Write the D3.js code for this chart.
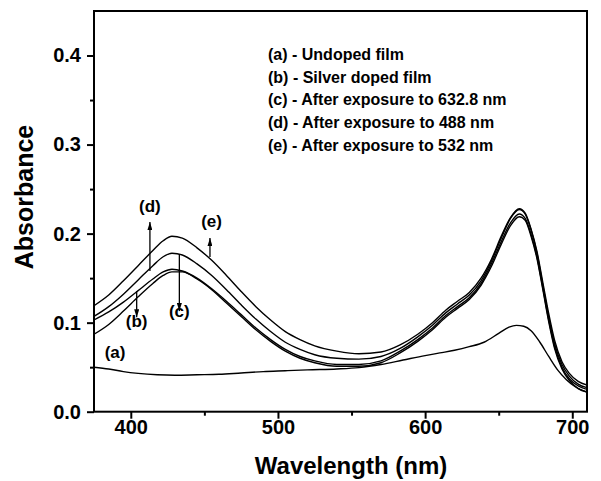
<!DOCTYPE html>
<html>
<head>
<meta charset="utf-8">
<script src="https://cdn.jsdelivr.net/npm/d3@7"></script>
<style>
  body { margin: 0; background: #fff; }
  svg { display: block; }
  text { font-family: 'Liberation Sans', Arial, sans-serif; font-weight: bold; fill: #000; }
</style>
</head>
<body>
<script>
// absorbance spectra
var wl = [375, 385, 395, 405, 415, 422, 428, 435, 445, 455, 465, 475, 485, 495, 505, 515, 525, 540, 555, 570, 583, 595, 605, 614, 622, 630, 638, 645, 652, 658, 664, 668, 672, 676, 680, 684, 688, 693, 698, 704, 710];
var absE = [.119, .131, .147, .164, .181, .192, .197, .195, .184, .170, .153, .135, .118, .103, .090, .081, .074, .068, .065, .067, .075, .087, .100, .114, .124, .134, .150, .171, .198, .218, .228, .223, .205, .180, .145, .110, .080, .056, .043, .034, .030];
var absD = [.107, .118, .132, .148, .164, .174, .178, .176, .166, .153, .137, .120, .104, .090, .078, .070, .064, .060, .059, .062, .071, .084, .097, .111, .121, .131, .147, .169, .196, .217, .227, .222, .204, .178, .142, .106, .076, .053, .040, .031, .027];
var absC = [.103, .112, .123, .136, .149, .157, .160, .158, .150, .138, .124, .109, .094, .081, .070, .062, .057, .053, .053, .057, .068, .081, .094, .108, .118, .128, .144, .166, .192, .212, .222, .217, .199, .174, .139, .103, .073, .050, .037, .029, .025];
var absB = [.087, .098, .113, .129, .144, .153, .157, .157, .149, .137, .122, .107, .092, .079, .068, .060, .055, .051, .051, .055, .066, .079, .092, .106, .116, .126, .142, .163, .189, .209, .219, .215, .197, .172, .137, .101, .071, .048, .035, .026, .022];

var wlA = [375, 385, 395, 405, 418, 430, 445, 460, 475, 490, 505, 520, 540, 555, 570, 585, 600, 610, 620, 630, 640, 650, 657, 662, 667, 672, 678, 684, 690, 696, 702, 710];
var absA = [.050, .048, .045, .043, .0415, .041, .0415, .042, .0435, .045, .046, .047, .048, .0495, .053, .058, .063, .066, .069, .073, .078, .088, .095, .097, .096, .091, .078, .062, .047, .036, .028, .022];

var xTicks = [400, 500, 600, 700];
var xMinor = [450, 550, 650];
var yTicks = [0, 0.1, 0.2, 0.3, 0.4];
var yMinor = [0.05, 0.15, 0.25, 0.35];

var legendLines = [
  '(a) - Undoped film',
  '(b) - Silver doped film',
  '(c) - After exposure to 632.8 nm',
  '(d) - After exposure to 488 nm',
  '(e) - After exposure to 532 nm'
];

// curve labels and arrows, in data units
var tags = [
  { t: '(a)', x: 389.3, y: 0.0607 },
  { t: '(b)', x: 404, y: 0.0946 },
  { t: '(c)', x: 433, y: 0.106 },
  { t: '(d)', x: 413, y: 0.224 },
  { t: '(e)', x: 454.9, y: 0.207 }
];
var arrows = [
  { x: 413, from: 0.158, to: 0.213 },
  { x: 404, from: 0.1356, to: 0.106 },
  { x: 433, from: 0.176, to: 0.113 },
  { x: 453.8, from: 0.1737, to: 0.195 }
];

var W = 601, H = 481;
var L = 94, R = 587, T = 11, B = 411.7;

var svg = d3.select('body').append('svg').attr('width', W).attr('height', H);

var x = d3.scaleLinear().domain([375, 710]).range([L, R]);
var y = d3.scaleLinear().domain([0, 0.45]).range([B, T]);

svg.append('defs').append('clipPath').attr('id', 'plot')
  .append('rect').attr('x', L).attr('y', T).attr('width', R - L).attr('height', B - T);

svg.select('defs').append('marker')
  .attr('id', 'head')
  .attr('viewBox', '0 0 10 10')
  .attr('preserveAspectRatio', 'none')
  .attr('refX', 10).attr('refY', 5)
  .attr('markerWidth', 8).attr('markerHeight', 5)
  .attr('markerUnits', 'userSpaceOnUse')
  .attr('orient', 'auto')
  .append('path').attr('d', 'M0,0 L10,5 L0,10 Z').attr('fill', '#000');

var line = d3.line()
  .x(function (d) { return x(d[0]); })
  .y(function (d) { return y(d[1]); })
  .curve(d3.curveMonotoneX);

var series = [absB, absC, absD, absE].map(function (s) {
  return d3.zip(wl, s);
});
series.push(d3.zip(wlA, absA));

svg.append('g').attr('clip-path', 'url(#plot)')
  .selectAll('path')
  .data(series)
  .enter()
  .append('path')
  .attr('d', line)
  .attr('fill', 'none')
  .attr('stroke', '#000')
  .attr('stroke-width', 1.4);

// frame
svg.append('rect')
  .attr('x', L).attr('y', T).attr('width', R - L).attr('height', B - T)
  .attr('fill', 'none').attr('stroke', '#000').attr('stroke-width', 2);

// axes
var xAxis = svg.append('g').attr('transform', 'translate(0,' + B + ')')
  .call(d3.axisBottom(x).tickValues(xTicks).tickSize(7).tickPadding(1).tickFormat(d3.format('d')));
var xAxisMinor = svg.append('g').attr('transform', 'translate(0,' + B + ')')
  .call(d3.axisBottom(x).tickValues(xMinor).tickSize(4).tickFormat(''));
var yAxis = svg.append('g').attr('transform', 'translate(' + L + ',0)')
  .call(d3.axisLeft(y).tickValues(yTicks).tickSize(7).tickPadding(6).tickFormat(d3.format('.1f')));
var yAxisMinor = svg.append('g').attr('transform', 'translate(' + L + ',0)')
  .call(d3.axisLeft(y).tickValues(yMinor).tickSize(4).tickFormat(''));

[xAxis, xAxisMinor, yAxis, yAxisMinor].forEach(function (g) {
  g.select('.domain').remove();
  g.selectAll('line').attr('stroke', '#000').attr('stroke-width', 2);
  g.selectAll('text').attr('font-size', 20).attr('font-family', null);
});

// titles
svg.append('text')
  .attr('x', 351).attr('y', 474)
  .attr('text-anchor', 'middle')
  .attr('font-size', 24)
  .text('Wavelength (nm)');

svg.append('text')
  .attr('transform', 'translate(33,197) rotate(-90)')
  .attr('text-anchor', 'middle')
  .attr('font-size', 25)
  .text('Absorbance');

// legend text
svg.append('g').selectAll('text')
  .data(legendLines)
  .enter()
  .append('text')
  .attr('x', 268)
  .attr('y', function (d, i) { return 60 + i * 22.7; })
  .attr('font-size', 16)
  .text(function (d) { return d; });

// curve tags
svg.append('g').selectAll('text')
  .data(tags)
  .enter()
  .append('text')
  .attr('x', function (d) { return x(d.x); })
  .attr('y', function (d) { return y(d.y); })
  .attr('text-anchor', 'middle')
  .attr('font-size', 17)
  .text(function (d) { return d.t; });

svg.append('g').selectAll('line')
  .data(arrows)
  .enter()
  .append('line')
  .attr('x1', function (d) { return x(d.x); })
  .attr('x2', function (d) { return x(d.x); })
  .attr('y1', function (d) { return y(d.from); })
  .attr('y2', function (d) { return y(d.to); })
  .attr('stroke', '#000')
  .attr('stroke-width', 1.3)
  .attr('marker-end', 'url(#head)');
</script>
</body>
</html>
